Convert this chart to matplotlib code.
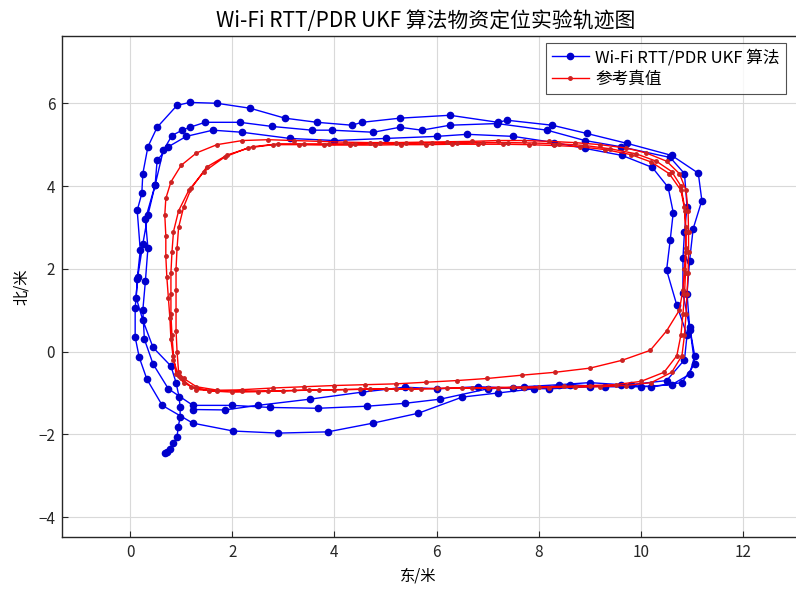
import matplotlib
matplotlib.use("Agg")
import matplotlib.pyplot as plt

plt.rcParams['font.family'] = ['Noto Sans CJK SC', 'DejaVu Sans']

# Wi-Fi RTT/PDR UKF estimate (one continuous walk, three laps)
ukf_x = [0.68, 0.72, 0.78, 0.85, 0.92, 0.94, 0.98, 0.98, 0.96, 0.90, 0.80,
         0.45, 0.25, 0.12, 0.14, 0.20, 0.14, 0.23, 0.25, 0.35, 0.53, 0.92, 1.17,
         1.70, 2.35, 3.03, 3.66, 4.34, 4.54, 5.28, 6.26, 7.20, 7.38, 8.26, 8.94,
         9.73, 10.60, 11.12, 11.19, 11.02, 10.95, 10.90, 10.95, 11.05, 10.95,
         10.60, 10.00, 9.30, 8.60, 7.90, 7.20, 6.50, 5.64, 4.75, 3.87, 2.90,
         2.02, 1.23, 0.63, 0.33, 0.18, 0.10, 0.10,
         0.15, 0.25, 0.35, 0.49, 0.65, 0.82, 1.02, 1.17, 1.47, 2.15, 2.78, 3.56,
         3.95, 4.76, 5.28, 5.71, 6.26, 7.18, 8.16, 8.90, 9.60, 10.57, 10.85,
         10.90, 10.85, 10.82, 10.82, 10.96, 11.05, 10.80, 10.20, 9.60, 9.00,
         8.40, 7.70, 7.00, 6.07, 5.38, 4.64, 3.68, 2.74, 2.00, 1.23, 0.75, 0.45,
         0.28,
         0.25, 0.30, 0.35, 0.30, 0.49, 0.53, 0.75, 1.10, 1.62, 2.19, 3.13, 4.00,
         5.00, 6.00, 6.60, 7.50, 8.30, 8.90, 9.63, 10.22, 10.53, 10.63, 10.57,
         10.50, 10.70, 10.90, 10.85, 10.50, 9.80, 9.00, 8.20, 7.50, 6.80, 6.00,
         5.38, 4.54, 3.52, 2.50, 1.86, 1.23]
ukf_y = [-2.46, -2.42, -2.36, -2.22, -2.07, -1.83, -1.59, -1.35, -1.10, -0.75, -0.35,
         0.10, 0.76, 1.30, 1.75, 2.45, 3.41, 3.82, 4.30, 4.95, 5.42, 5.95, 6.02,
         6.00, 5.88, 5.64, 5.54, 5.47, 5.54, 5.64, 5.71, 5.54, 5.59, 5.47, 5.27,
         5.03, 4.74, 4.31, 3.65, 2.97, 2.20, 1.40, 0.60, -0.10, -0.55,
         -0.80, -0.85, -0.85, -0.80, -0.90, -1.00, -1.10, -1.49, -1.73, -1.94, -1.97,
         -1.92, -1.73, -1.30, -0.67, -0.14, 0.35, 1.05,
         1.80, 2.60, 3.30, 4.02, 4.86, 5.22, 5.35, 5.42, 5.54, 5.54, 5.44, 5.35,
         5.35, 5.30, 5.42, 5.35, 5.47, 5.51, 5.35, 5.10, 4.95, 4.69, 4.30,
         3.50, 2.90, 2.25, 1.41, 0.52, -0.30, -0.75, -0.85, -0.80, -0.75,
         -0.80, -0.85, -0.90, -1.15, -1.25, -1.32, -1.37, -1.35, -1.30, -1.30, -0.90, -0.30,
         0.30,
         1.00, 1.70, 2.50, 3.20, 4.02, 4.62, 4.95, 5.20, 5.35, 5.30, 5.15, 5.10,
         5.15, 5.20, 5.25, 5.20, 5.05, 4.91, 4.74, 4.45, 3.97, 3.36, 2.69,
         1.97, 1.12, 0.40, -0.20, -0.70, -0.80, -0.85, -0.90, -0.88, -0.85, -0.90,
         -0.86, -0.98, -1.15, -1.30, -1.41, -1.40]

# reference ground truth (three laps)
ref_x = [0.95, 0.85, 0.80, 0.78, 0.75, 0.72, 0.70, 0.70, 0.68, 0.70, 0.80, 1.00,
         1.30, 1.70, 2.20, 2.70, 3.20, 3.70, 4.20, 4.70, 5.20, 5.70, 6.20, 6.70,
         7.20, 7.70, 8.20, 8.70, 9.20, 9.70, 10.10, 10.50, 10.75, 10.88, 10.92,
         10.93, 10.93, 10.92, 10.90, 10.88, 10.85, 10.80, 10.60, 10.20, 9.70,
         9.20, 8.70, 8.20, 7.70, 7.20, 6.70, 6.20, 5.70, 5.20, 4.70, 4.20, 3.70,
         3.20, 2.70, 2.20, 1.70, 1.30, 1.05,
         0.95, 0.92, 0.90, 0.90, 0.90, 0.90, 0.92, 0.95, 1.05, 1.20, 1.50, 1.90,
         2.40, 2.90, 3.40, 3.90, 4.40, 4.90, 5.40, 5.90, 6.40, 6.90, 7.40, 7.90,
         8.40, 8.90, 9.40, 9.90, 10.30, 10.60, 10.78, 10.85, 10.87, 10.87, 10.85,
         10.82, 10.75, 10.50, 10.18, 9.63, 9.00, 8.32, 7.67, 6.99, 6.40, 5.80,
         5.20, 4.60, 4.00, 3.40, 2.80, 2.20, 1.70, 1.30, 1.05,
         0.90, 0.85, 0.82, 0.80, 0.80, 0.80, 0.82, 0.85, 0.95, 1.15, 1.45, 1.85,
         2.30, 2.80, 3.30, 3.80, 4.30, 4.80, 5.30, 5.80, 6.30, 6.80, 7.30, 7.80,
         8.30, 8.80, 9.30, 9.80, 10.20, 10.55, 10.78, 10.86, 10.88, 10.88, 10.87,
         10.85, 10.82, 10.78, 10.70, 10.45, 10.00, 9.50, 9.00, 8.50, 8.00, 7.50,
         7.00, 6.50, 6.00, 5.50, 5.00, 4.50, 4.00, 3.50, 3.00, 2.50, 2.00, 1.55,
         1.20, 1.00]
ref_y = [-0.60, -0.20, 0.30, 0.80, 1.30, 1.80, 2.30, 2.80, 3.30, 3.70, 4.10, 4.50,
         4.80, 5.00, 5.10, 5.12, 5.10, 5.08, 5.06, 5.05, 5.05, 5.06, 5.07, 5.08,
         5.10, 5.10, 5.08, 5.05, 5.00, 4.92, 4.80, 4.60, 4.30, 3.90, 3.40,
         2.90, 2.40, 1.90, 1.40, 0.90, 0.40, -0.10, -0.50, -0.75, -0.82,
         -0.85, -0.86, -0.87, -0.88, -0.88, -0.88, -0.89, -0.90, -0.90, -0.91, -0.92, -0.93,
         -0.94, -0.95, -0.95, -0.93, -0.85, -0.65,
         -0.50, 0.00, 0.50, 1.00, 1.50, 2.00, 2.50, 3.00, 3.50, 3.95, 4.46, 4.75,
         4.95, 5.02, 5.02, 5.02, 5.02, 5.03, 5.03, 5.04, 5.04, 5.05, 5.05, 5.04,
         5.02, 4.98, 4.90, 4.78, 4.60, 4.35, 4.00, 3.50, 3.00, 2.50, 2.00,
         1.50, 1.00, 0.50, 0.03, -0.21, -0.40, -0.50, -0.57, -0.65, -0.70, -0.74,
         -0.78, -0.80, -0.82, -0.85, -0.88, -0.92, -0.95, -0.92, -0.75,
         -0.55, -0.10, 0.40, 0.90, 1.40, 1.90, 2.40, 2.90, 3.40, 3.90, 4.35, 4.70,
         4.92, 5.00, 5.00, 4.99, 4.99, 4.99, 5.00, 5.00, 5.01, 5.01, 5.01, 5.00,
         4.98, 4.95, 4.88, 4.76, 4.58, 4.30, 3.90, 3.40, 2.90, 2.40, 1.90,
         1.40, 0.90, 0.40, -0.10, -0.50, -0.72, -0.80, -0.82, -0.84, -0.85, -0.86,
         -0.87, -0.88, -0.89, -0.90, -0.90, -0.91, -0.92, -0.93, -0.95, -0.97, -0.98, -0.95,
         -0.85, -0.65]

fig = plt.figure(figsize=(7.96, 5.94), dpi=100)
# axes run past the right edge of the picture, as in the cropped original
ax = fig.add_axes([0.078, 0.096, 1.0, 0.843])

ax.plot(ukf_x, ukf_y, '-', color='#0000ff', lw=1.0, marker='o', ms=4.5,
        mfc='#0000cc', mec='#0000cc', label='Wi-Fi RTT/PDR UKF 算法')
ax.plot(ref_x, ref_y, '-', color='#ff0000', lw=1.0, marker='o', ms=2.5,
        mfc='#cc2222', mec='#cc2222', label='参考真值')

# 51.1 px per metre, x=0 at pixel 130
ax.set_xlim(-1.33, -1.33 + 796 / 51.1)
ax.set_ylim(-4.48, 7.62)
ax.set_xticks([0, 2, 4, 6, 8, 10, 12])
ax.set_yticks([-4, -2, 0, 2, 4, 6])
ax.grid(True, color='#d9d9d9', lw=0.8)
ax.set_axisbelow(True)
ax.tick_params(direction='in', labelsize=11, colors='#262626', length=4, pad=5)
for s in ax.spines.values():
    s.set_color('#262626')
    s.set_linewidth(1.0)

ax.set_title('Wi-Fi RTT/PDR UKF 算法物资定位实验轨迹图', fontsize=15, pad=7,
             x=(426 - 62) / 796)
ax.set_xlabel('东/米', fontsize=11, labelpad=1)
ax.xaxis.set_label_coords((418 - 62) / 796, -0.06)
ax.set_ylabel('北/米', fontsize=11, labelpad=6)

leg = ax.legend(loc='upper left', bbox_to_anchor=((546 - 62) / 796, 0.986),
                borderaxespad=0, fontsize=12, frameon=True, fancybox=False,
                edgecolor='#262626', borderpad=0.35, handlelength=2.2,
                labelspacing=0.3, handletextpad=0.4)
leg.get_frame().set_linewidth(0.8)

fig.savefig('out.png', dpi=100)
